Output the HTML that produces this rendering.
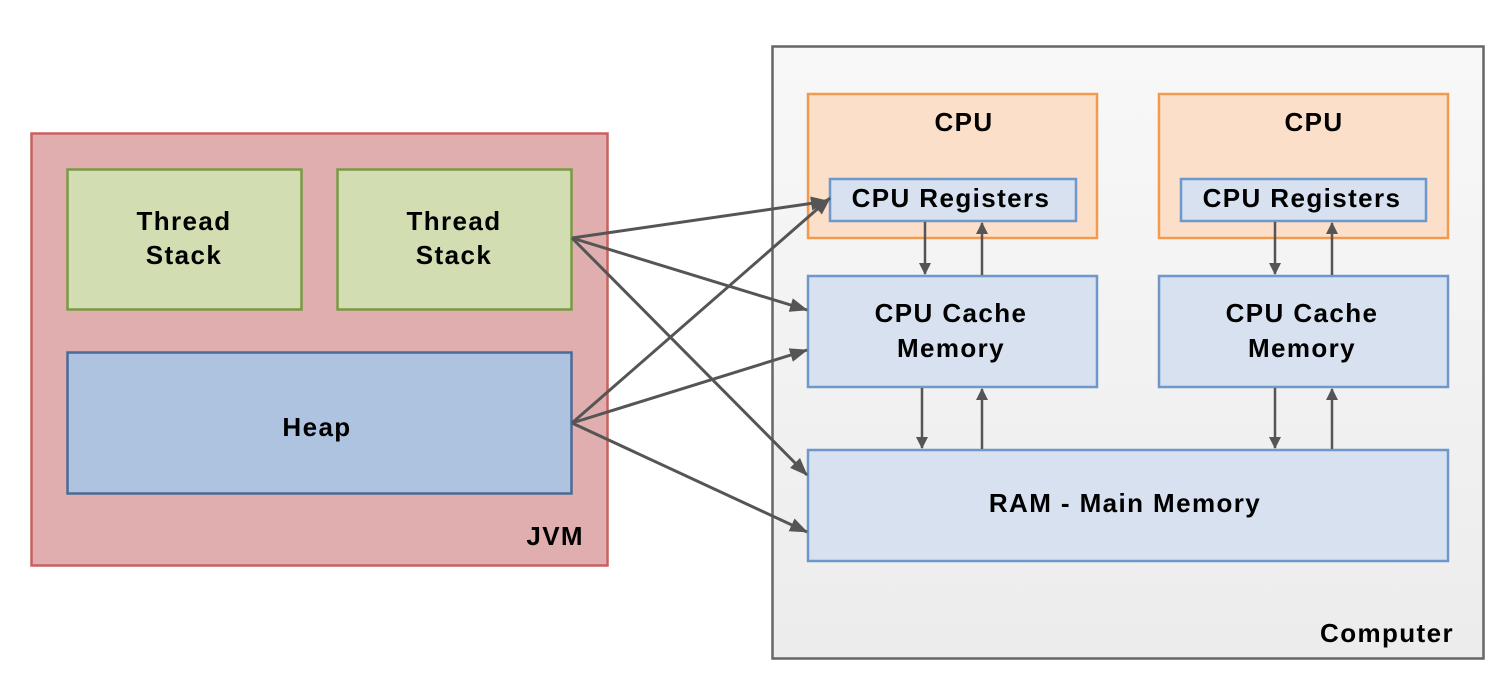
<!DOCTYPE html>
<html><head><style>
body{margin:0;width:1506px;height:684px;background:#fff;overflow:hidden;font-family:"Liberation Sans",Arial,sans-serif;}
</style></head><body>
<svg width="1506" height="684" xmlns="http://www.w3.org/2000/svg" font-family="Liberation Sans, Arial, sans-serif" font-weight="bold" font-size="26" letter-spacing="1.4">
<defs>
<linearGradient id="g" x1="0" y1="0" x2="0" y2="1"><stop offset="0" stop-color="#f8f8f8"/><stop offset="1" stop-color="#ececec"/></linearGradient>
<marker id="a" markerWidth="12" markerHeight="12" refX="11" refY="6" orient="auto" markerUnits="userSpaceOnUse"><path d="M0,0 L12,6 L0,12z" fill="#555"/></marker>
<marker id="b" markerWidth="18" markerHeight="14" refX="17" refY="7" orient="auto" markerUnits="userSpaceOnUse"><path d="M0,0 L18,7 L0,14z" fill="#555"/></marker>
</defs>
<rect x="31.5" y="133.5" width="576" height="432" fill="#e0aeae" stroke="#c9605f" stroke-width="2.5"/>
<rect x="67.5" y="169.5" width="234" height="140" fill="#d2ddb2" stroke="#789a45" stroke-width="2.5"/>
<rect x="337.5" y="169.5" width="234" height="140" fill="#d2ddb2" stroke="#789a45" stroke-width="2.5"/>
<rect x="67.5" y="352.5" width="504" height="141" fill="#adc3e0" stroke="#4a6a97" stroke-width="2.5"/>
<text x="184" y="230" text-anchor="middle">Thread</text><text x="184" y="264" text-anchor="middle">Stack</text>
<text x="454" y="230" text-anchor="middle">Thread</text><text x="454" y="264" text-anchor="middle">Stack</text>
<text x="317" y="436" text-anchor="middle">Heap</text>
<text x="584" y="545" text-anchor="end">JVM</text>
<rect x="772.5" y="46.5" width="711" height="612" fill="url(#g)" stroke="#666" stroke-width="2.5"/>
<text x="1454" y="642" text-anchor="end">Computer</text>
<g stroke="#6e97cc" stroke-width="2.5" fill="#d7e1ef">
<rect x="808" y="94" width="289" height="144" fill="#fbdfc9" stroke="#f29a4d"/>
<rect x="1159" y="94" width="289" height="144" fill="#fbdfc9" stroke="#f29a4d"/>
<rect x="830" y="179" width="246" height="42"/>
<rect x="1181" y="179" width="245" height="42"/>
<rect x="808" y="276" width="289" height="111"/>
<rect x="1159" y="276" width="289" height="111"/>
<rect x="808" y="450" width="640" height="111"/>
</g>
<g text-anchor="middle">
<text x="964" y="131">CPU</text><text x="1314" y="131">CPU</text>
<text x="951" y="207">CPU Registers</text><text x="1302" y="207">CPU Registers</text>
<text x="951" y="322">CPU Cache</text><text x="951" y="357">Memory</text>
<text x="1302" y="322">CPU Cache</text><text x="1302" y="357">Memory</text>
<text x="1125" y="512">RAM - Main Memory</text>
</g>
<g stroke="#555" stroke-width="3" fill="none" marker-end="url(#b)">
<line x1="572" y1="238" x2="828" y2="201"/>
<line x1="572" y1="238" x2="807" y2="310"/>
<line x1="572" y1="238" x2="807" y2="475"/>
<line x1="572" y1="423" x2="830" y2="198"/>
<line x1="572" y1="423" x2="807" y2="350"/>
<line x1="572" y1="423" x2="807" y2="532"/>
</g>
<g stroke="#555" stroke-width="2.5" fill="none" marker-end="url(#a)">
<line x1="925" y1="222" x2="925" y2="274"/>
<line x1="982" y1="275" x2="982" y2="223"/>
<line x1="922" y1="388" x2="922" y2="448"/>
<line x1="982" y1="449" x2="982" y2="389"/>
<line x1="1275" y1="222" x2="1275" y2="274"/>
<line x1="1332" y1="275" x2="1332" y2="223"/>
<line x1="1275" y1="388" x2="1275" y2="448"/>
<line x1="1332" y1="449" x2="1332" y2="389"/>
</g>
</svg>
</body></html>
